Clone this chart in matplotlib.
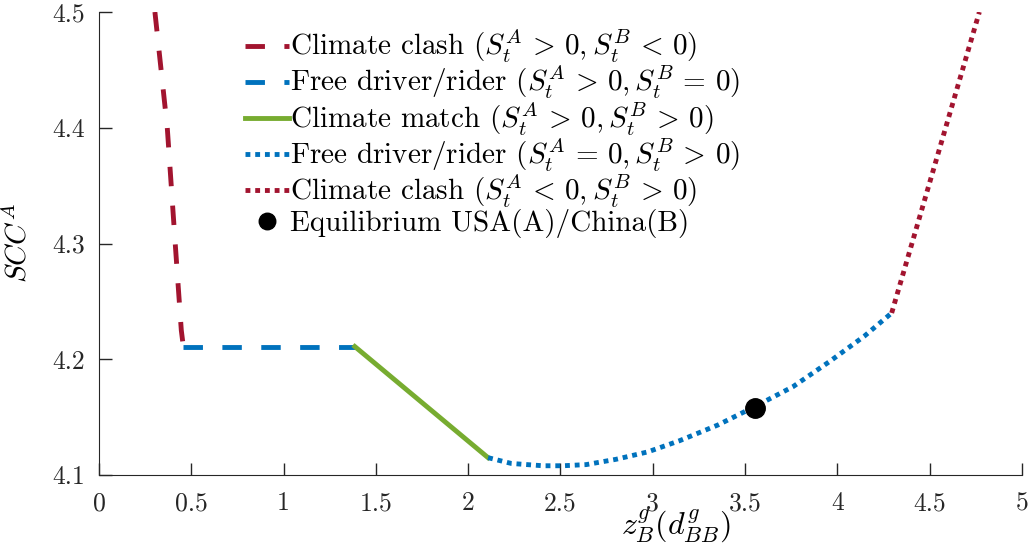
import matplotlib
matplotlib.use("Agg")
import matplotlib.pyplot as plt

plt.rcParams['font.family'] = 'serif'
plt.rcParams['font.serif'] = ['cmr10']
plt.rcParams['mathtext.fontset'] = 'cm'
plt.rcParams['axes.formatter.use_mathtext'] = True

# regime segments of SCC^A along z_B^g
clash_ab_x = [0.303, 0.37, 0.413, 0.446, 0.457]
clash_ab_y = [4.50, 4.40, 4.30, 4.225, 4.211]

free_a_x = [0.457, 1.386]
free_a_y = [4.211, 4.211]

match_x = [1.386, 2.108]
match_y = [4.211, 4.115]

free_b_x = [2.108, 2.234, 2.405, 2.513, 2.640, 2.802, 2.974, 3.145, 3.353,
            3.552, 3.760, 3.958, 4.147, 4.295]
free_b_y = [4.115, 4.110, 4.108, 4.108, 4.109, 4.1136, 4.120, 4.1296, 4.1432,
            4.159, 4.1763, 4.198, 4.220, 4.240]

clash_ba_x = [4.295, 4.77]
clash_ba_y = [4.240, 4.50]

eq_x = 3.555
eq_y = 4.158

labels = [r'Climate clash $(S_t^A\, >\, 0, S_t^B\, <\, 0)$',
          r'Free driver/rider $(S_t^A\, >\, 0, S_t^B\, =\, 0)$',
          r'Climate match $(S_t^A\, >\, 0, S_t^B\, >\, 0)$',
          r'Free driver/rider $(S_t^A\, =\, 0, S_t^B\, >\, 0)$',
          r'Climate clash $(S_t^A\, <\, 0, S_t^B\, >\, 0)$',
          'Equilibrium USA(A)/China(B)']

xticks = [0, 0.5, 1, 1.5, 2, 2.5, 3, 3.5, 4, 4.5, 5]
xticklabels = ['0', '0.5', '1', '1.5', '2', '2.5', '3', '3.5', '4', '4.5', '5']
yticks = [4.1, 4.2, 4.3, 4.4, 4.5]
yticklabels = ['4.1', '4.2', '4.3', '4.4', '4.5']

red = '#A2142F'
blue = '#0072BD'
green = '#77AC30'
lw = 3.5

fig = plt.figure(figsize=(10.29, 5.46), dpi=100)
ax = fig.add_axes([0.0962, 0.1300, 0.8968, 0.8480])

ax.plot(clash_ab_x, clash_ab_y, color=red, lw=lw, linestyle=(0, (4, 4)),
        dash_capstyle='butt', label=labels[0])
ax.plot(free_a_x, free_a_y, color=blue, lw=lw, linestyle=(0, (4, 4)),
        dash_capstyle='butt', label=labels[1])
ax.plot(match_x, match_y, color=green, lw=lw, label=labels[2])
ax.plot(free_b_x, free_b_y, color=blue, lw=lw, linestyle=(0, (1, 1)),
        dash_capstyle='butt', label=labels[3])
ax.plot(clash_ba_x, clash_ba_y, color=red, lw=lw, linestyle=(0, (1, 1)),
        dash_capstyle='butt', label=labels[4])
ax.plot([eq_x], [eq_y], 'o', color='black', markersize=14, label=labels[5],
        zorder=5)

ax.set_xlim(0, 5)
ax.set_ylim(4.1, 4.5)
ax.set_xticks(xticks)
ax.set_xticklabels(xticklabels)
ax.set_yticks(yticks)
ax.set_yticklabels(yticklabels)
ax.tick_params(direction='in', length=9, width=1, colors='#262626',
               labelsize=18.5, labelcolor='#262626', pad=10)
ax.tick_params(axis='x', pad=12)
for side in ['top', 'right']:
    ax.spines[side].set_visible(False)
ax.spines['left'].set_color('#262626')
ax.spines['bottom'].set_color('#262626')

ax.set_xlabel(r'$z_B^g(d_{BB}^g)$', fontsize=23)
ax.xaxis.set_label_coords(0.625, -0.07)
ax.set_ylabel(r'$SCC^A$', fontsize=21, labelpad=14)

leg = ax.legend(loc='upper left', bbox_to_anchor=(0.141, 1.0), frameon=False,
                fontsize=21, handlelength=1.5, handletextpad=0.05,
                labelspacing=-0.04, borderaxespad=0.15, markerscale=0.85)

fig.savefig('out.png', dpi=100)
